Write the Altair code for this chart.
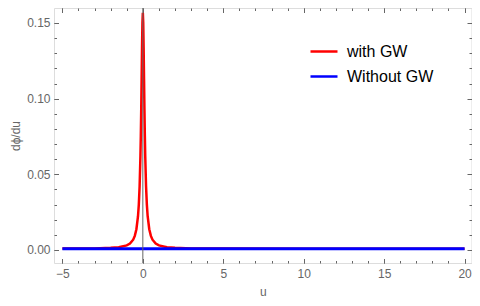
import altair as alt
import pandas as pd

# ---- data ----
u_with = [-5, -4, -3, -2, -1.5, -1, -0.8, -0.6, -0.5, -0.4, -0.3, -0.25, -0.2, -0.15,
          -0.125, -0.1, -0.075, -0.05, -0.025, 0, 0.025, 0.05, 0.075, 0.1, 0.125, 0.15,
          0.2, 0.25, 0.3, 0.4, 0.5, 0.6, 0.8, 1, 1.5, 2, 3, 4, 5, 10, 15, 20]
v_with = [0.0009, 0.0009, 0.0010, 0.0014, 0.0018, 0.0030, 0.0042, 0.0068, 0.0093, 0.0137,
          0.0223, 0.0300, 0.0421, 0.0617, 0.0756, 0.0929, 0.1130, 0.1337, 0.1503, 0.1568,
          0.1503, 0.1337, 0.1130, 0.0929, 0.0756, 0.0617, 0.0421, 0.0300, 0.0223, 0.0137,
          0.0093, 0.0068, 0.0042, 0.0030, 0.0018, 0.0014, 0.0010, 0.0009, 0.0009, 0.0008,
          0.0008, 0.0008]
u_without = [-5, 0, 5, 10, 15, 20]
v_without = [0.0008, 0.0008, 0.0008, 0.0008, 0.0008, 0.0008]

series_names = ["with GW", "Without GW"]
series_colors = ["#ff0000", "#0000ff"]

x_major = [-5, 0, 5, 10, 15, 20]
x_minor = [-5, -4, -3, -2, -1, 0, 1, 2, 3, 4, 5, 6, 7, 8, 9, 10, 11, 12, 13, 14, 15,
           16, 17, 18, 19, 20]
y_major = [0.0, 0.05, 0.10, 0.15]
y_minor = [0.0, 0.01, 0.02, 0.03, 0.04, 0.05, 0.06, 0.07, 0.08, 0.09, 0.10, 0.11,
           0.12, 0.13, 0.14, 0.15]
axis_u = [0]

x_domain = [-5.522, 20.43]
y_domain = [-0.0086, 0.1599]

GRAY = "#666666"
FONT = "Liberation Sans"

df_with = pd.DataFrame({"u": u_with, "v": v_with, "series": series_names[0]})
df_without = pd.DataFrame({"u": u_without, "v": v_without, "series": series_names[1]})
df_axis = pd.DataFrame({"u": axis_u})

xs = alt.Scale(domain=x_domain, nice=False, zero=False)
ys = alt.Scale(domain=y_domain, nice=False, zero=False)
cs = alt.Scale(domain=series_names, range=series_colors)

legend = alt.Legend(orient="none", legendX=255, legendY=28.5, title=None,
                    symbolType="stroke", symbolSize=729, symbolStrokeWidth=2.5,
                    labelFontSize=16, labelColor="black", labelFont=FONT,
                    rowPadding=2, padding=0, labelOffset=8)


def tick_axis(orient, values, size):
    return alt.Axis(orient=orient, values=values, tickSize=size, offset=-size,
                    labels=False, domain=False, grid=False, ticks=True,
                    tickColor=GRAY, tickWidth=1)


x_label_axis = alt.Axis(orient="bottom", values=x_major, ticks=False, tickSize=0,
                        domain=False, grid=False, labelPadding=5, labelFontSize=12,
                        labelColor=GRAY, labelFont=FONT, titleFont=FONT,
                        titleFontSize=12, titleColor=GRAY, titleFontWeight="normal",
                        titlePadding=7)
y_label_axis = alt.Axis(orient="left", values=y_major, format=".2f", ticks=False,
                        tickSize=0, domain=False, grid=False, labelPadding=4,
                        labelFontSize=12, labelColor=GRAY, labelFont=FONT,
                        titleFont=FONT, titleFontSize=12, titleColor=GRAY,
                        titleFontWeight="normal", titlePadding=4)

red = alt.Chart(df_with).mark_line(strokeWidth=2.5, clip=True).encode(
    x=alt.X("u:Q", scale=xs, axis=x_label_axis, title="u"),
    y=alt.Y("v:Q", scale=ys, axis=y_label_axis, title="dϕ/du"),
    color=alt.Color("series:N", scale=cs, legend=legend),
)
blue = alt.Chart(df_without).mark_line(strokeWidth=3, clip=True).encode(
    x=alt.X("u:Q", scale=xs, axis=tick_axis("bottom", x_major, 4.5), title=None),
    y=alt.Y("v:Q", scale=ys, axis=tick_axis("left", y_major, 4.5), title=None),
    color=alt.Color("series:N", scale=cs, legend=legend),
)
inv1 = alt.Chart(df_without).mark_point(opacity=0).encode(
    x=alt.X("u:Q", scale=xs, axis=tick_axis("bottom", x_minor, 2.5), title=None),
    y=alt.Y("v:Q", scale=ys, axis=tick_axis("left", y_minor, 2.5), title=None),
)
inv2 = alt.Chart(df_without).mark_point(opacity=0).encode(
    x=alt.X("u:Q", scale=xs, axis=tick_axis("top", x_major, 4.5), title=None),
    y=alt.Y("v:Q", scale=ys, axis=tick_axis("right", y_major, 4.5), title=None),
)
inv3 = alt.Chart(df_without).mark_point(opacity=0).encode(
    x=alt.X("u:Q", scale=xs, axis=tick_axis("top", x_minor, 2.5), title=None),
    y=alt.Y("v:Q", scale=ys, axis=tick_axis("right", y_minor, 2.5), title=None),
)
vrule = alt.Chart(df_axis).mark_rule(color=GRAY, strokeWidth=1).encode(
    x=alt.X("u:Q", scale=xs, axis=None),
)

chart = alt.layer(red, blue, vrule, inv1, inv2, inv3).resolve_axis(
    x="independent", y="independent"
).properties(
    width=417.5, height=255,
    autosize=alt.AutoSizeParams(type="none"),
    padding={"left": 46, "top": 0, "right": 0, "bottom": 35},
).configure_view(stroke=GRAY, strokeWidth=1).configure(background="white")

chart.save("out.html", embed_options={"renderer": "svg", "actions": False})
